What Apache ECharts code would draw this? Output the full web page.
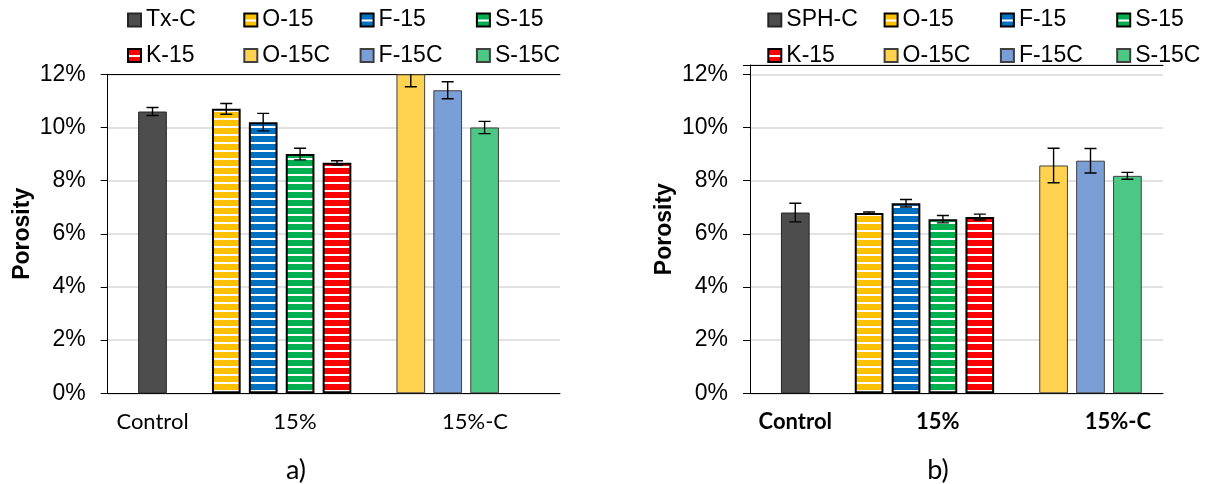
<!DOCTYPE html>
<html>
<head>
<meta charset="utf-8">
<script src="https://cdn.jsdelivr.net/npm/echarts@6/dist/echarts.min.js"></script>
<style>
  html, body { margin: 0; padding: 0; background: #fff; }
  #chart { width: 1207px; height: 484px; }
</style>
</head>
<body>
<div id="chart"></div>
<script>
// ---- data -------------------------------------------------------------
const groupLabels = ['Control', '15%', '15%-C'];
const groupSizes = [1, 4, 3];

const treatmentNames = ['O-15', 'F-15', 'S-15', 'K-15', 'O-15C', 'F-15C', 'S-15C'];

// panel a) Tx-C
const controlA = 'Tx-C';
const porosityA = [10.6, 10.7, 10.2, 9.0, 8.67, 12.0, 11.4, 10.0];
const errorA = [0.15, 0.2, 0.33, 0.22, 0.08, 0.47, 0.32, 0.23];

// panel b) SPH-C
const controlB = 'SPH-C';
const porosityB = [6.8, 6.78, 7.15, 6.55, 6.63, 8.57, 8.75, 8.18];
const errorB = [0.35, 0.04, 0.14, 0.14, 0.11, 0.65, 0.46, 0.13];

const yTicks = [0, 2, 4, 6, 8, 10, 12];

// ---- styling ----------------------------------------------------------
const FONT_ARIAL = '"Liberation Sans", Arial, sans-serif';
const FONT_CAL = 'Lato, "Open Sans", sans-serif';
const SLOT_PX = 36.9;          // distance between neighbouring bars
const BAR_W = 28.7;
const labelSlots = [0, 3.86, 8.74];

function stripes(base) {
  const c = document.createElement('canvas');
  c.width = 4; c.height = 8;
  const g = c.getContext('2d');
  g.fillStyle = base; g.fillRect(0, 0, 4, 8);
  g.fillStyle = '#ffffff'; g.fillRect(0, 6, 4, 2);
  return { image: c, repeat: 'repeat' };
}
const solid = (c, b) => ({ color: c, borderColor: b, borderWidth: 1 });
const striped = (c) => ({ color: stripes(c), borderColor: '#000', borderWidth: 2 });
const styles = {
  'Tx-C': solid('#4d4d4d', '#262626'),
  'SPH-C': solid('#4d4d4d', '#262626'),
  'O-15': striped('#ffc000'),
  'F-15': striped('#0070c0'),
  'S-15': striped('#00b050'),
  'K-15': striped('#ff0000'),
  'O-15C': solid('#ffd34f', '#404040'),
  'F-15C': solid('#7a9ed6', '#404040'),
  'S-15C': solid('#4cc784', '#404040')
};

// slot index of every bar: groups separated by one empty slot
const slots = [];
(function () {
  let s = 0;
  groupSizes.forEach((n) => {
    for (let k = 0; k < n; k++) slots.push(s++);
    s++;
  });
})();

// panel geometry (px)
const panels = [
  { left: 107.7, right: 560, top: 74.3, bottom: 393.3, yMax: 12, firstSlot: 152.5 },
  { left: 750, right: 1163, top: 65, bottom: 393.3, yMax: 12.35, firstSlot: 795.3 }
];

const grids = [], xAxes = [], yAxes = [], series = [];

function errorRender(params, api) {
  const x = api.value(0), v = api.value(1), e = api.value(2);
  const t = api.coord([x, v + e]);
  const b = api.coord([x, v - e]);
  const w = 6;
  const st = { stroke: '#000', lineWidth: 1.4 };
  return {
    type: 'group',
    children: [
      { type: 'line', shape: { x1: t[0], y1: t[1], x2: b[0], y2: b[1] }, style: st },
      { type: 'line', shape: { x1: t[0] - w, y1: t[1], x2: t[0] + w, y2: t[1] }, style: st },
      { type: 'line', shape: { x1: b[0] - w, y1: b[1], x2: b[0] + w, y2: b[1] }, style: st }
    ]
  };
}

[[controlA, porosityA, errorA], [controlB, porosityB, errorB]].forEach((d, pi) => {
  const p = panels[pi];
  const [ctrl, vals, errs] = d;
  const names = [ctrl].concat(treatmentNames);
  const xMin = (p.left - p.firstSlot) / SLOT_PX;
  const xMax = (p.right - p.firstSlot) / SLOT_PX;

  grids.push({ left: p.left, top: p.top, width: p.right - p.left, height: p.bottom - p.top, containLabel: false });

  xAxes.push({
    type: 'value', gridIndex: pi, position: 'bottom', min: xMin, max: xMax,
    axisLine: { show: true, onZero: false, lineStyle: { color: '#000', width: 1 } },
    axisTick: { show: false },
    splitLine: { show: false },
    axisLabel: {
      customValues: labelSlots,
      margin: 18,
      fontFamily: FONT_CAL, fontSize: 22, color: '#000',
      fontWeight: pi === 1 ? 'bold' : 'normal',
      formatter: (v) => {
        let best = 0;
        labelSlots.forEach((s, i) => { if (Math.abs(s - v) < Math.abs(labelSlots[best] - v)) best = i; });
        return groupLabels[best];
      }
    }
  });
  xAxes.push({
    type: 'value', gridIndex: pi, position: 'top', min: xMin, max: xMax,
    axisLine: { show: true, onZero: false, lineStyle: { color: '#000', width: 1 } },
    axisTick: { show: false }, axisLabel: { show: false }, splitLine: { show: false }
  });

  yAxes.push({
    type: 'value', gridIndex: pi, min: 0, max: p.yMax, interval: 2,
    name: 'Porosity', nameLocation: 'middle', nameRotate: 90, nameGap: 74,
    nameTextStyle: { fontFamily: FONT_ARIAL, fontSize: 23, fontWeight: 'bold', color: '#000' },
    axisLine: { show: true, onZero: false, lineStyle: { color: '#000', width: 1 } },
    axisTick: { show: true, inside: false, length: 7, lineStyle: { color: '#000' } },
    axisLabel: {
      margin: 22, fontFamily: FONT_ARIAL, fontSize: 23, color: '#000',
      formatter: (v) => (yTicks.indexOf(v) >= 0 ? v + '%' : '')
    },
    splitLine: { show: true, lineStyle: { color: '#d9d9d9', width: 1.5 } }
  });

  names.forEach((n, i) => {
    series.push({
      type: 'bar', name: n, xAxisIndex: pi * 2, yAxisIndex: pi,
      barWidth: BAR_W, barGap: '-100%',
      itemStyle: styles[n],
      data: [[slots[i], vals[i]]],
      z: 2, silent: true
    });
  });
  series.push({
    type: 'custom', xAxisIndex: pi * 2, yAxisIndex: pi,
    clip: true, z: 5, silent: true,
    encode: { x: 0, y: 1 },
    renderItem: errorRender,
    data: names.map((n, i) => [slots[i], vals[i], errs[i]])
  });
});

// legends: two rows of four per panel
function legendRow(data, left, top) {
  return {
    data: data, left: left, top: top, width: 480, orient: 'horizontal',
    padding: 0, itemGap: 10, itemWidth: 13, itemHeight: 13, icon: 'rect',
    selectedMode: false,
    textStyle: { fontFamily: FONT_ARIAL, fontSize: 23, color: '#000', width: 87.3, lineHeight: 26 }
  };
}
const legends = [
  legendRow([controlA, 'O-15', 'F-15', 'S-15'], 127, 7),
  legendRow(['K-15', 'O-15C', 'F-15C', 'S-15C'], 127, 42.5),
  legendRow([controlB, 'O-15', 'F-15', 'S-15'], 767.3, 7),
  legendRow(['K-15', 'O-15C', 'F-15C', 'S-15C'], 767.3, 42.5)
];

const chart = echarts.init(document.getElementById('chart'), null, { renderer: 'canvas' });
chart.setOption({
  backgroundColor: '#fff',
  animation: false,
  legend: legends,
  grid: grids,
  xAxis: xAxes,
  yAxis: yAxes,
  series: series,
  graphic: [
    { type: 'text', x: 296, y: 470, style: { text: 'a)', fontFamily: FONT_CAL, fontSize: 27, fill: '#000', textAlign: 'center', textVerticalAlign: 'middle' } },
    { type: 'text', x: 938, y: 470, style: { text: 'b)', fontFamily: FONT_CAL, fontSize: 27, fill: '#000', textAlign: 'center', textVerticalAlign: 'middle' } }
  ]
});
</script>
</body>
</html>
